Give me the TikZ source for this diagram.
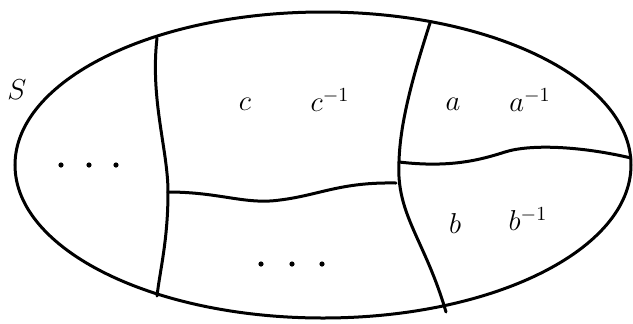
\documentclass[tikz,border=0pt]{standalone}
\usepackage{tikz}
\usetikzlibrary{positioning}

\tikzset{
  cutline/.style={line width=1.5pt,line cap=round},
  lbl/.style={font=\Large,inner sep=0pt}
}

\begin{document}
\begin{tikzpicture}[x=0.5pt,y=-0.5pt]
  \useasboundingbox (0,0) rectangle (633,323);
  % Outer surface
  \draw[cutline] (323,165) ellipse (308 and 153);
  % Cuts
  \coordinate (jl) at (168,192);
  \coordinate (jr) at (399,162);
  \coordinate (jm) at (396,183);
  \draw[cutline] (157,38) .. controls (150,100) and (168,150) .. (jl);
  \draw[cutline] (jl) .. controls (168,240) and (160,270) .. (157,296);
  \draw[cutline] (jl) .. controls (220,192) and (245,205) .. (280,200)
                      .. controls (320,195) and (340,182) .. (jm);
  \draw[cutline] (430,23) .. controls (415,70) and (400,120) .. (jr);
  \draw[cutline] (jr) .. controls (396,215) and (425,240) .. (446,312);
  \draw[cutline] (jr) .. controls (450,168) and (480,160) .. (505,152)
                      .. controls (530,144) and (580,146) .. (631,158);
  % Labels
  \node[lbl] (S) at (17,90) {$S$};
  \node[lbl] (c) at (245,104) {$c$};
  \node[lbl] (cinv) at (330,100) {$c^{-1}$};
  \node[lbl] (a) at (453,104) {$a$};
  \node[lbl] (ainv) at (530,100) {$a^{-1}$};
  \node[lbl] (b) at (455,223) {$b$};
  \node[lbl] (binv) at (528,219) {$b^{-1}$};
  % Dots
  \foreach \x in {61,89,116} \fill (\x,165) circle (2.6);
  \foreach \x in {261,292,322} \fill (\x,264) circle (2.6);
\end{tikzpicture}
\end{document}
